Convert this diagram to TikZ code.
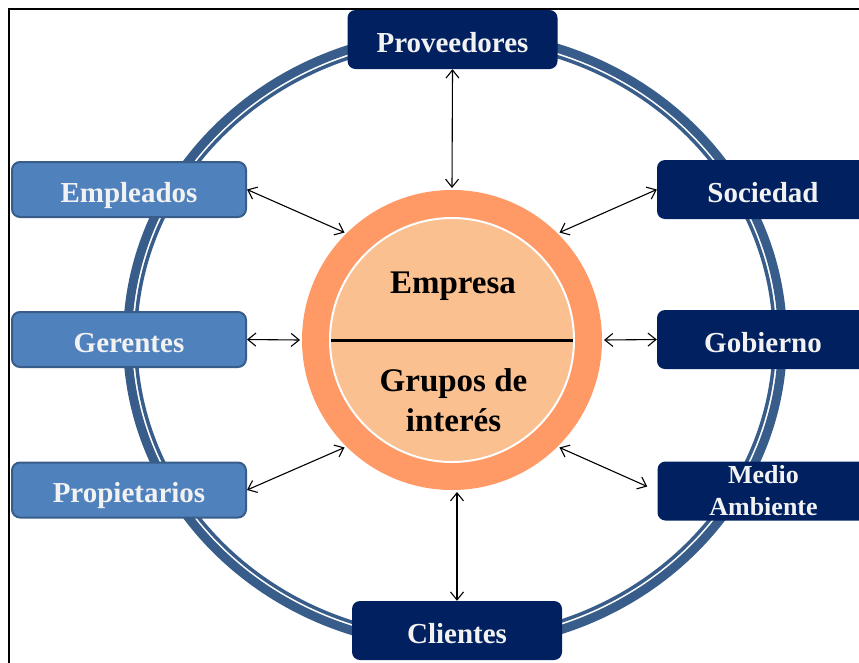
\documentclass[tikz,border=0pt]{standalone}
\usepackage{fontspec}
\setmainfont{Liberation Serif}
\usetikzlibrary{arrows.meta}

\definecolor{ringblue}{RGB}{56,93,138}
\definecolor{navybox}{RGB}{0,32,96}
\definecolor{lightbox}{RGB}{79,129,189}
\definecolor{lightedge}{RGB}{56,93,138}
\definecolor{coreout}{RGB}{255,153,102}
\definecolor{corein}{RGB}{250,192,143}
\definecolor{boxtext}{RGB}{242,242,242}

\tikzset{
  darkbox/.style={rectangle, rounded corners=8pt, fill=navybox, draw=none,
    minimum width=210pt, minimum height=59pt, inner sep=0pt,
    text=boxtext, font={\bfseries\fontsize{29}{34}\selectfont},
    text height=27pt, text depth=2pt},
  lightbox/.style={rectangle, rounded corners=8pt, fill=lightbox, draw=lightedge,
    line width=2pt, minimum width=234pt, minimum height=55pt, inner sep=0pt,
    text=boxtext, font={\bfseries\fontsize{29}{34}\selectfont},
    text height=27pt, text depth=2pt},
  link/.style={line width=1.1pt, {Straight Barb[length=8pt,width=13pt]}-{Straight Barb[length=8pt,width=13pt]}},
  coretext/.style={font={\bfseries\fontsize{33}{40}\selectfont}, align=center, inner sep=0pt}
}

\begin{document}
\begin{tikzpicture}[x=1pt,y=-1pt]
  \useasboundingbox (0,0) rectangle (859,662);
  \clip (0,0) rectangle (859,662);

  % outer frame
  \draw[line width=2pt] (8.5,8.5) rectangle (900,700);

  % double ring
  \draw[ringblue, line width=9pt] (455,339.5) ellipse [x radius=327.5, y radius=306.5];
  \draw[ringblue, line width=3.5pt] (455,339.5) ellipse [x radius=319.5, y radius=298.5];

  % stakeholder boxes
  \node[darkbox] (prov) at (452.5,39.5) {Proveedores};
  \node[darkbox] (cli) at (457,630.5) {Clientes};
  \node[darkbox, minimum width=212pt] (soc) at (763,189.5) {Sociedad};
  \node[darkbox, minimum width=212pt] (gob) at (763,339.5) {Gobierno};
  \node[darkbox, minimum width=212pt, text height=, text depth=,
        align=center, font={\bfseries\fontsize{26}{32}\selectfont}]
        (med) at (763.5,491) {Medio\\Ambiente};
  \node[lightbox] (emp) at (129,189.5) {Empleados};
  \node[lightbox] (ger) at (129,339.5) {Gerentes};
  \node[lightbox] (prop) at (129,490) {Propietarios};

  % company core
  \node[circle, fill=coreout, minimum size=300pt, inner sep=0pt, outer sep=2pt] (core) at (452,340) {};
  \fill[corein, draw=white, line width=2pt] (core.center) circle [radius=122];
  \draw[line width=3pt] (core.center) ++(-121,0) coordinate (divl) -- ++(242,0) coordinate (divr);
  \node[coretext, anchor=base] (emptxt) at (453,293) {Empresa};
  \node[coretext] (grptxt) at (453.5,400.5) {Grupos de\\interés};

  % relations
  \coordinate (cliend) at (cli.north |- core.south);
  \draw[link] (prov.south) -- (core.north);
  \draw[link] (cli.north) -- (cliend);
  \draw[link] (emp.east) -- (core.135);
  \draw[link] (ger.east) -- (core.west);
  \draw[link] (prop.east) -- (core.225);
  \draw[link] (soc.west) -- (core.45);
  \draw[link] (gob.west) -- (core.east);
  \draw[link, shorten <=11pt] (med.west) -- (core.315);
\end{tikzpicture}
\end{document}
